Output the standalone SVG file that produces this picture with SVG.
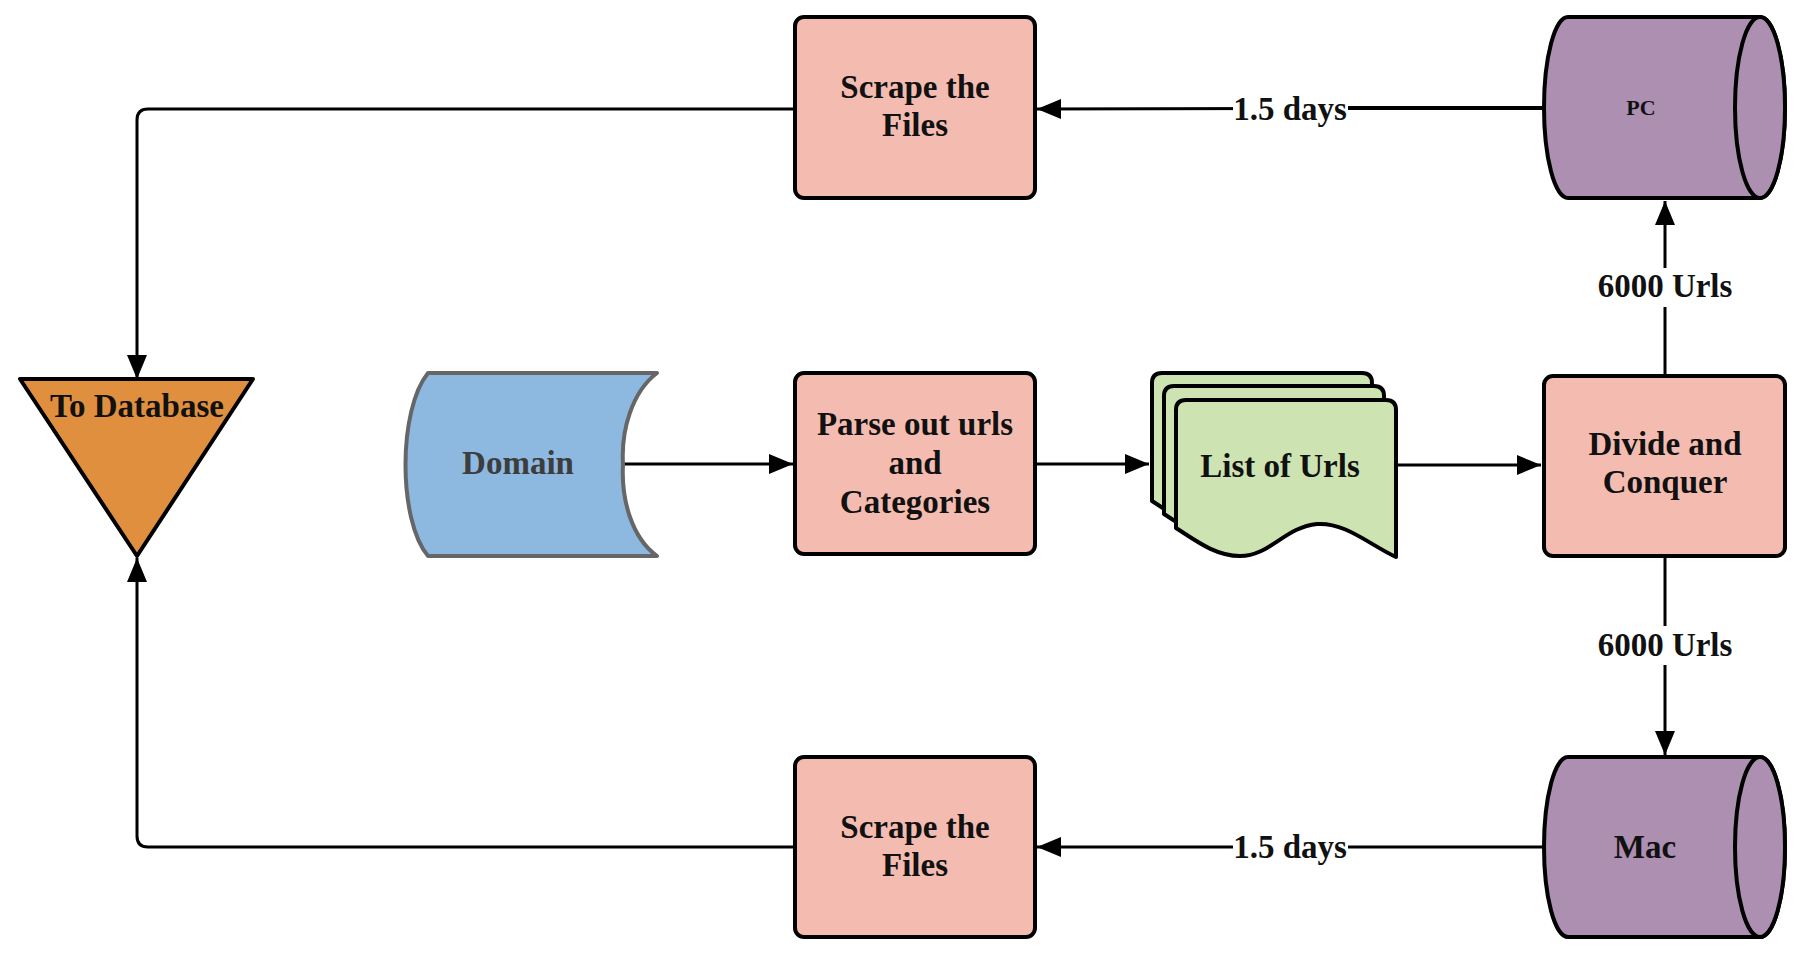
<svg xmlns="http://www.w3.org/2000/svg" width="1818" height="956" viewBox="0 0 1818 956">
<style>
.t{font-family:"Liberation Serif","Times New Roman",serif;font-weight:bold;font-size:33px;fill:#111;text-anchor:middle}
.box{fill:#F4BCB0;stroke:#000;stroke-width:4}
.cyl{fill:#AD8FB2;stroke:#000;stroke-width:4}
.sheet{fill:#CDE3B1;stroke:#000;stroke-width:4;stroke-linejoin:round}
.c{fill:none;stroke:#000;stroke-width:3}
.lbl{fill:#fff}
</style>
<defs>
<marker id="ah" markerUnits="userSpaceOnUse" markerWidth="26" markerHeight="22" refX="24" refY="11" orient="auto">
<path d="M0,1 L24,11 L0,21 Z" fill="#000"/>
</marker>
<path id="sheetShape" d="M1176,410 Q1176,400 1186,400 L1386,400 Q1396,400 1396,410 L1396,557 C1370,545 1345,522 1317,524 C1285,527 1270,556 1240,556 C1215,556 1195,540 1176,528 Z"/>
</defs>

<g id="connectors">
<path class="c" d="M795,109 L148,109 Q137,109 137,120 L137,379" marker-end="url(#ah)"/>
<path class="c" d="M795,847 L148,847 Q137,847 137,836 L137,558" marker-end="url(#ah)"/>
<path class="c" d="M1544,108 L1037,109" marker-end="url(#ah)"/>
<path class="c" style="stroke-width:4" d="M1348,108 L1544,108"/>
<path class="c" d="M1544,847 L1037,847" marker-end="url(#ah)"/>
<path class="c" d="M623,464 L793,464" marker-end="url(#ah)"/>
<path class="c" d="M1035,464 L1149,464" marker-end="url(#ah)"/>
<path class="c" d="M1396,465 L1541,465" marker-end="url(#ah)"/>
<path class="c" d="M1665,376 L1665,201" marker-end="url(#ah)"/>
<path class="c" d="M1665,556 L1665,755" marker-end="url(#ah)"/>
<rect class="lbl" x="1233" y="90" width="115" height="38"/>
<text class="t" x="1290" y="120">1.5 days</text>
<rect class="lbl" x="1233" y="828" width="115" height="38"/>
<text class="t" x="1290" y="858">1.5 days</text>
<rect class="lbl" x="1596" y="268" width="138" height="39"/>
<text class="t" x="1665" y="297">6000 Urls</text>
<rect class="lbl" x="1596" y="626" width="138" height="39"/>
<text class="t" x="1665" y="656">6000 Urls</text>
</g>

<g id="to-database">
<path d="M20,379 L253,379 L137,556 Z" fill="#E08F3E" stroke="#000" stroke-width="4" stroke-linejoin="round"/>
<text class="t" x="137" y="417">To Database</text>
</g>

<g id="domain">
<path d="M428,373 L657,373 C632,392 621,430 623,464 C621,500 632,538 657,556 L428,556 C398,520 398,410 428,373 Z" fill="#8DB8E0" stroke="#666" stroke-width="4" stroke-linejoin="round"/>
<text class="t" x="518" y="474" style="fill:#3d3d3d">Domain</text>
</g>

<g id="parse">
<rect class="box" x="795" y="373" width="240" height="181" rx="9"/>
<text class="t" x="915" y="435">Parse out urls</text>
<text class="t" x="915" y="474">and</text>
<text class="t" x="915" y="513">Categories</text>
</g>

<g id="list-of-urls">
<use href="#sheetShape" class="sheet" transform="translate(-24,-27)"/>
<use href="#sheetShape" class="sheet" transform="translate(-12,-14)"/>
<use href="#sheetShape" class="sheet"/>
<text class="t" x="1280" y="477">List of Urls</text>
</g>

<g id="divide">
<rect class="box" x="1544" y="376" width="241" height="180" rx="9"/>
<text class="t" x="1665" y="455">Divide and</text>
<text class="t" x="1665" y="493">Conquer</text>
</g>

<g id="scrape-top">
<rect class="box" x="795" y="17" width="240" height="181" rx="9"/>
<text class="t" x="915" y="98">Scrape the</text>
<text class="t" x="915" y="136">Files</text>
</g>

<g id="scrape-bottom">
<rect class="box" x="795" y="757" width="240" height="180" rx="9"/>
<text class="t" x="915" y="838">Scrape the</text>
<text class="t" x="915" y="876">Files</text>
</g>

<g id="pc">
<path class="cyl" d="M1568,17 L1760,17 A25,90.5 0 0 1 1760,198 L1568,198 A24,90.5 0 0 1 1568,17 Z"/>
<ellipse class="cyl" cx="1760" cy="107.5" rx="25" ry="90.5"/>
<text class="t" x="1641" y="115" style="font-size:22px">PC</text>
</g>

<g id="mac">
<path class="cyl" d="M1568,757 L1760,757 A25,90 0 0 1 1760,937 L1568,937 A24,90 0 0 1 1568,757 Z"/>
<ellipse class="cyl" cx="1760" cy="847" rx="25" ry="90"/>
<text class="t" x="1645" y="858">Mac</text>
</g>
</svg>
